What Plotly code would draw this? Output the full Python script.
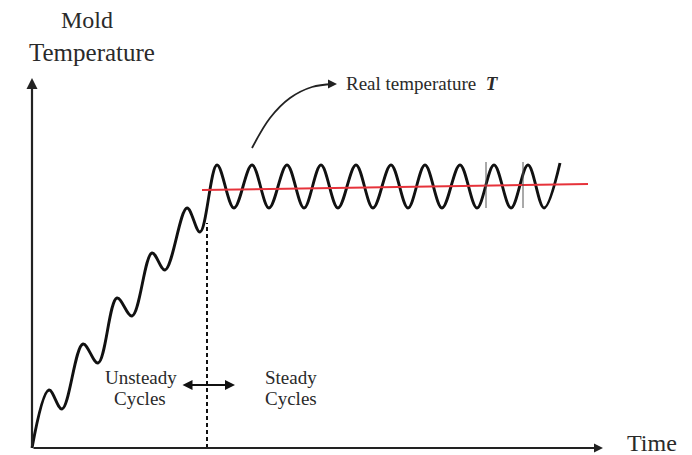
import plotly.graph_objects as go

# ---- data (time units / temperature units of the schematic) ----
unsteady_time = [0, 1.7, 3.0, 5.1, 6.6, 8.5, 10.0, 12.0, 13.3, 15.5, 16.8]
unsteady_temp = [0, 5.8, 3.9, 10.4, 8.5, 15.0, 13.2, 19.5, 17.8, 24.0, 21.6]

steady_time = [18.5, 20.2, 22.0, 23.7, 25.5, 27.2, 28.9, 30.6, 32.4, 34.1,
               35.9, 37.6, 39.3, 41.0, 42.8, 44.5, 46.2, 47.9, 49.6, 51.2, 52.8]
steady_temp = [28.3, 24.0, 28.3, 24.0, 28.3, 24.0, 28.3, 24.0, 28.3, 24.0,
               28.3, 24.0, 28.3, 24.0, 28.3, 24.0, 28.3, 24.0, 28.3, 24.0, 28.5]

mean_time = [17.0, 55.6]
mean_temp = [25.8, 26.4]

transition_time = 17.5
transition_temp = [0, 22.5]

mark_time = [45.4, 49.1]
mark_temp = [24.0, 28.6]

pointer_time = [22.0, 23.8, 25.8, 28.0, 30.1]
pointer_temp = [30.0, 33.0, 35.0, 36.1, 36.4]

axis_time_end = 57.1
axis_temp_end = 37.0

curve_time = unsteady_time + steady_time
curve_temp = unsteady_temp + steady_temp

FONT = "Liberation Serif, Times New Roman, serif"
TXT = "#2a2a2a"

fig = go.Figure()

# real temperature curve
fig.add_trace(go.Scatter(x=curve_time, y=curve_temp, mode="lines",
                         line=dict(color="#111111", width=2.9, shape="spline", smoothing=1.0),
                         hoverinfo="skip", showlegend=False))
# mean line
fig.add_trace(go.Scatter(x=mean_time, y=mean_temp, mode="lines",
                         line=dict(color="#e6323a", width=2),
                         hoverinfo="skip", showlegend=False))
# dashed transition line
fig.add_trace(go.Scatter(x=[transition_time, transition_time], y=transition_temp, mode="lines",
                         line=dict(color="#111111", width=2, dash="4px,3px"),
                         hoverinfo="skip", showlegend=False))
# small vertical marks
for t in mark_time:
    fig.add_trace(go.Scatter(x=[t, t], y=mark_temp, mode="lines",
                             line=dict(color="#555555", width=1),
                             hoverinfo="skip", showlegend=False))
# curved pointer
fig.add_trace(go.Scatter(x=pointer_time, y=pointer_temp, mode="lines",
                         line=dict(color="#222222", width=1.8, shape="spline", smoothing=1.0),
                         hoverinfo="skip", showlegend=False))

annotations = [
    # axes with arrows
    dict(x=0, y=axis_temp_end, ax=0, ay=0, xref="x", yref="y", axref="x", ayref="y",
         text="", showarrow=True, arrowhead=2, arrowsize=1, arrowwidth=2.2, arrowcolor="#222222"),
    dict(x=axis_time_end, y=0, ax=0, ay=0, xref="x", yref="y", axref="x", ayref="y",
         text="", showarrow=True, arrowhead=2, arrowsize=1, arrowwidth=1.8, arrowcolor="#222222"),
    # pointer arrowhead
    dict(x=30.5, y=36.4, ax=pointer_time[-1], ay=pointer_temp[-1], xref="x", yref="y",
         axref="x", ayref="y", text="", showarrow=True, arrowhead=2, arrowsize=1,
         arrowwidth=1.8, arrowcolor="#222222"),
    # double arrow
    dict(x=20.3, y=6.3, ax=14.9, ay=6.3, xref="x", yref="y", axref="x", ayref="y",
         text="", showarrow=True, arrowhead=2, startarrowhead=2, arrowside="end+start",
         arrowsize=1, arrowwidth=2, arrowcolor="#111111"),
    # labels
    dict(x=5.5, y=42.8, text="Mold", showarrow=False, font=dict(family=FONT, size=24, color=TXT)),
    dict(x=6.0, y=39.6, text="Temperature", showarrow=False, font=dict(family=FONT, size=25, color=TXT)),
    dict(x=62.0, y=0.5, text="Time", showarrow=False, font=dict(family=FONT, size=24, color=TXT)),
    dict(x=31.2, y=36.5, xanchor="left", text="Real temperature&#160;&#160;<b><i>T</i></b>",
         showarrow=False, font=dict(family=FONT, size=19, color=TXT)),
    dict(x=10.9, y=7.1, text="Unsteady", showarrow=False, font=dict(family=FONT, size=19, color=TXT)),
    dict(x=10.8, y=5.0, text="Cycles", showarrow=False, font=dict(family=FONT, size=19, color=TXT)),
    dict(x=25.9, y=7.1, text="Steady", showarrow=False, font=dict(family=FONT, size=19, color=TXT)),
    dict(x=25.9, y=5.0, text="Cycles", showarrow=False, font=dict(family=FONT, size=19, color=TXT)),
]

# the page body adds an 8px offset, so ranges are shifted by 0.8 units
fig.update_layout(
    width=692, height=455,
    margin=dict(l=0, r=0, t=0, b=0),
    paper_bgcolor="white", plot_bgcolor="white",
    xaxis=dict(range=[-2.4, 66.8], visible=False, fixedrange=True),
    yaxis=dict(range=[-1.5, 44.0], visible=False, fixedrange=True),
    annotations=annotations,
    showlegend=False,
)

fig.write_html("out.html")
